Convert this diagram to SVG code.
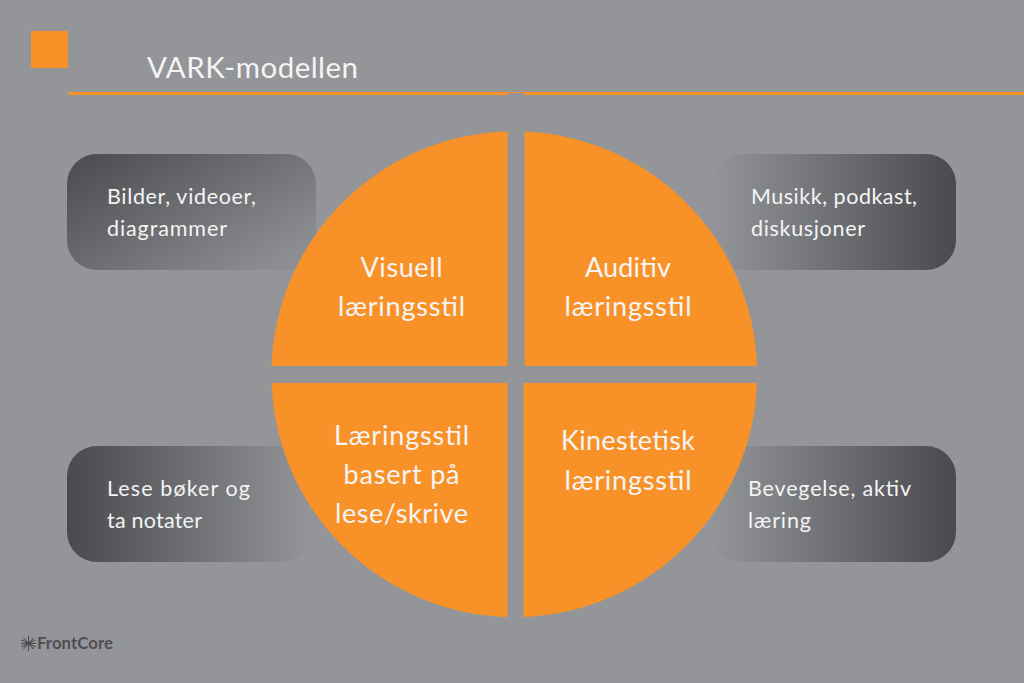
<svg xmlns="http://www.w3.org/2000/svg" width="1024" height="683" viewBox="0 0 1024 683">
<style>
text{font-family:"Lato","Liberation Sans",sans-serif;fill:#f4f4f4}
.q{fill:#f89228}
.t{font-size:21.500px}
.c{font-size:27px;text-anchor:middle}
</style>
<defs>
<linearGradient id="gd" x1="0" y1="0" x2="1" y2="0.75"><stop offset="0" stop-color="#4a4a4e"/><stop offset="1" stop-color="#8c8e91"/></linearGradient>
<linearGradient id="gl" x1="0" y1="0" x2="1" y2="0"><stop offset="0" stop-color="#4a4a4e"/><stop offset="1" stop-color="#939598"/></linearGradient>
<linearGradient id="gr" x1="1" y1="0" x2="0" y2="0"><stop offset="0" stop-color="#4a4a4e"/><stop offset="1" stop-color="#939598"/></linearGradient>
</defs>
<rect width="1024" height="683" fill="#939598"/>
<g id="header">
<rect x="31" y="31" width="37" height="37" class="q"/>
<rect x="68" y="92" width="956" height="3" class="q"/>
<rect x="508" y="93" width="16" height="3" fill="#939598"/>
<text x="147" y="78" font-size="29.500" textLength="211">VARK-modellen</text>
</g>
<g id="box-visual"><rect x="67" y="154" width="249" height="116" rx="30" fill="url(#gd)"/>
<text class="t" x="107" y="204" textLength="149">Bilder, videoer,</text><text class="t" x="107" y="236" textLength="120">diagrammer</text></g>
<g id="box-auditory"><rect x="711" y="154" width="245" height="116" rx="30" fill="url(#gr)"/>
<text class="t" x="751" y="204" textLength="166">Musikk, podkast,</text><text class="t" x="751" y="236" textLength="114">diskusjoner</text></g>
<g id="box-reading"><rect x="67" y="446" width="245" height="116" rx="30" fill="url(#gl)"/>
<text class="t" x="107" y="496" textLength="143">Lese bøker og</text><text class="t" x="107" y="528" textLength="95">ta notater</text></g>
<g id="box-kinesthetic"><rect x="711" y="446" width="245" height="116" rx="30" fill="url(#gr)"/>
<text class="t" x="748" y="496" textLength="163">Bevegelse, aktiv</text><text class="t" x="748" y="528" textLength="63">læring</text></g>
<g id="q-visual"><path class="q" d="M507.500 131.500V366H271.500A243 243 0 0 1 507.500 131.500Z"/>
<text class="c" x="401.500" y="277" textLength="82">Visuell</text><text class="c" x="401.500" y="316" textLength="127">læringsstil</text></g>
<g id="q-auditory"><path class="q" d="M524.500 131.500V366H757A243 243 0 0 0 524.500 131.500Z"/>
<text class="c" x="628" y="277" textLength="86">Auditiv</text><text class="c" x="628" y="316" textLength="127">læringsstil</text></g>
<g id="q-reading"><path class="q" d="M507.500 617V383H271.500A243 243 0 0 0 507.500 617Z"/>
<text class="c" x="401.500" y="445" textLength="135">Læringsstil</text><text class="c" x="401.500" y="484" textLength="116">basert på</text><text class="c" x="401.500" y="523" textLength="133">lese/skrive</text></g>
<g id="q-kinesthetic"><path class="q" d="M523.500 617V383H757A243 243 0 0 1 523.500 617Z"/>
<text class="c" x="628" y="450" textLength="134">Kinestetisk</text><text class="c" x="628" y="490" textLength="127">læringsstil</text></g>
<g id="connectors"></g>
<g id="logo">
<path d="M21 643.500H36M28.500 636V651M23.500 638L33.500 649M33.500 638L23.500 649M21.500 640L35.500 647M35.500 640L21.500 647" stroke="#4f4f52" stroke-width="1.100" fill="none"/>
<text x="37" y="649" font-size="16.800" font-weight="700" style="fill:#4f4f52" textLength="76">FrontCore</text>
</g>
</svg>
